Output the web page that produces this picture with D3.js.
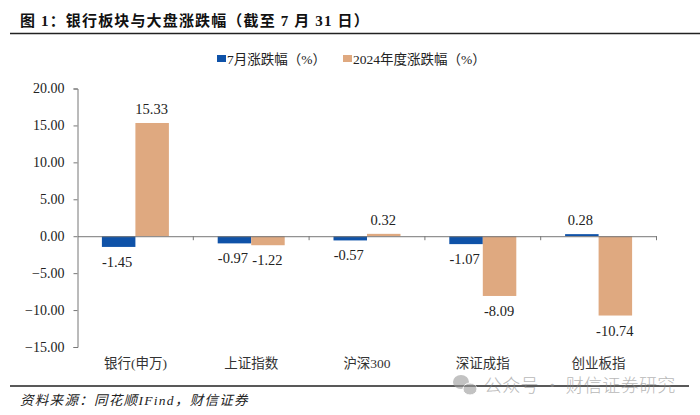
<!DOCTYPE html>
<html>
<head>
<meta charset="utf-8">
<script src="https://cdnjs.cloudflare.com/ajax/libs/d3/7.8.5/d3.min.js"></script>
<style>
html,body{margin:0;padding:0;background:#fff;}
svg{display:block;}
text{font-family:"Liberation Serif","Noto Sans CJK SC",serif;fill:#222;}
</style>
</head>
<body>
<svg id="svg" width="700" height="415"></svg>
<script>
var categories = ["银行(申万)", "上证指数", "沪深300", "深证成指", "创业板指"];
var seriesNames = ["7月涨跌幅（%）", "2024年度涨跌幅（%）"];
var july = [-1.45, -0.97, -0.57, -1.07, 0.28];
var ytd = [15.33, -1.22, 0.32, -8.09, -10.74];
var yTicks = [20, 15, 10, 5, 0, -5, -10, -15];
var colors = ["#0f52a8", "#dfa980"];

var svg = d3.select("#svg");

var x = d3.scaleBand().domain(categories).range([77.5, 656.5]);
var inner = d3.scaleBand().domain([0, 1]).range([0, 67]);
var pad = (x.bandwidth() - 67) / 2;
var y = d3.scaleLinear().domain([-15, 20]).range([347, 88.5]);

// header
svg.append("text").attr("x", 20).attr("y", 26).attr("font-size", 15).attr("font-weight", "bold")
    .attr("letter-spacing", "1.15px").style("fill", "#111")
    .text("图 1：银行板块与大盘涨跌幅（截至 7 月 31 日）");
svg.append("line").attr("x1", 10).attr("x2", 700).attr("y1", 33.5).attr("y2", 33.5)
    .attr("stroke", "#222").attr("stroke-width", 1.6);

// legend
var legend = svg.selectAll(".lg").data(seriesNames).enter().append("g").attr("class", "lg")
    .attr("transform", (_, i) => "translate(" + [217, 343][i] + ",0)");
legend.append("rect").attr("y", 55).attr("width", 9).attr("height", 7).attr("fill", (_, i) => colors[i]);
legend.append("text").attr("x", 10).attr("y", 64).attr("font-size", 13.5).text(d => d);

// bars
var groups = svg.selectAll(".cat").data(categories).enter().append("g").attr("class", "cat")
    .attr("transform", d => "translate(" + (x(d) + pad) + ",0)");
[july, ytd].forEach(function (vals, s) {
    groups.append("rect")
        .attr("x", inner(s))
        .attr("width", inner.bandwidth())
        .attr("y", (_, i) => y(Math.max(0, vals[i])))
        .attr("height", (_, i) => Math.abs(y(vals[i]) - y(0)))
        .attr("fill", colors[s]);
    groups.append("text")
        .attr("x", inner(s) + inner.bandwidth() / 2 + (s ? -0.5 : -1.5))
        .attr("y", (_, i) => vals[i] < 0 ? y(vals[i]) + 20 : y(vals[i]) - 9)
        .attr("text-anchor", "middle").attr("font-size", 14.5)
        .text((_, i) => vals[i].toFixed(2));
});

// axes
var yAxis = d3.axisLeft(y).tickValues(yTicks).tickSize(4).tickPadding(9).tickFormat(d3.format(".2f"));
var gy = svg.append("g").attr("transform", "translate(77.5,0)").call(yAxis);
var gx = svg.append("g").attr("transform", "translate(0," + y(0) + ")")
    .call(d3.axisBottom(x).tickValues([]).tickSizeOuter(0));
gx.selectAll(".cross").data(categories.slice(1).concat(["end"])).enter().append("line")
    .attr("class", "cross")
    .attr("x1", (_, i) => x.range()[0] + (i + 1) * x.step())
    .attr("x2", (_, i) => x.range()[0] + (i + 1) * x.step())
    .attr("y1", 0).attr("y2", 4).attr("stroke", "#777");
[gy, gx].forEach(function (g) {
    g.selectAll("path,line").attr("stroke", "#777");
    g.selectAll("text").attr("font-size", 14).attr("font-family", null).style("fill", "#222");
});
gy.selectAll("text").attr("font-family", '"Liberation Serif"');

svg.selectAll(".xl").data(categories).enter().append("text").attr("class", "xl")
    .attr("x", d => x(d) + x.bandwidth() / 2).attr("y", 368)
    .attr("text-anchor", "middle").attr("font-size", 13.5).style("fill", "#333")
    .text(d => d);

// footer
svg.append("line").attr("x1", 10).attr("x2", 689).attr("y1", 386).attr("y2", 386)
    .attr("stroke", "#222").attr("stroke-width", 1.6);
svg.append("text").attr("x", 20).attr("y", 405).attr("font-size", 13.5)
    .attr("font-style", "italic").attr("letter-spacing", "1.3px")
    .text("资料来源：同花顺IFind，财信证券");

// watermark
var wm = svg.append("g").attr("opacity", 0.6);
wm.append("ellipse").attr("cx", 461).attr("cy", 382).attr("rx", 8).attr("ry", 7).attr("fill", "#9a9a9a");
wm.append("ellipse").attr("cx", 470).attr("cy", 389).attr("rx", 7).attr("ry", 6).attr("fill", "#9a9a9a").attr("stroke", "#fff");
wm.append("text").attr("x", 484).attr("y", 392).attr("font-size", 18).attr("letter-spacing", "0.3px")
    .style("font-family", '"Noto Sans CJK SC"').style("font-weight", 300).style("fill", "#8a8a8a")
    .text("公众号 · 财信证券研究");
</script>
</body>
</html>
